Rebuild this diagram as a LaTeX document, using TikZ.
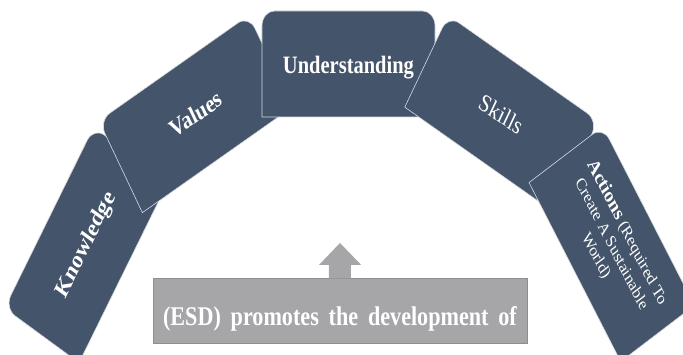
\documentclass[tikz,border=0pt]{standalone}
\usepackage{fontspec}
\setmainfont{Liberation Serif}
\definecolor{slate}{HTML}{44546A}
\definecolor{cardedge}{HTML}{D6DAE0}
\definecolor{esdgray}{HTML}{A6A6A8}
\definecolor{esdedge}{HTML}{8E8E90}
\tikzset{
  card/.style={fill=slate, draw=cardedge, line width=0.6pt},
  cardtext/.style={text=white, transform shape, align=center, font=\bfseries\fontsize{25}{30}\selectfont},
  esdbox/.style={fill=esdgray, draw=esdedge, line width=0.5pt, transform shape, minimum width=456pt, minimum height=65pt, inner sep=0pt},
  esdtext/.style={text=white, transform shape, font=\bfseries\fontsize{27}{32}\selectfont, inner sep=0pt},
}
\begin{document}
\begin{tikzpicture}[x=1pt, y=-1pt, xscale=0.82]
\clip (0,0) rectangle (832.93,355);
% Knowledge
\begin{scope}[shift={(105.3,245)}, rotate=59, y=1pt]
  \filldraw[card] (-105.5,-53) -- (-105.5,38) arc[start angle=180,end angle=90,radius=15] -- (90.5,53) arc[start angle=90,end angle=0,radius=15] -- (105.5,-53) -- cycle;
  \node[cardtext] (know) at (0,0) {Knowledge};
\end{scope}
% Values
\begin{scope}[shift={(238.5,114)}, rotate=30, y=1pt]
  \filldraw[card] (-105.5,-53) -- (-105.5,38) arc[start angle=180,end angle=90,radius=15] -- (90.5,53) arc[start angle=90,end angle=0,radius=15] -- (105.5,-53) -- cycle;
  \node[cardtext] (val) at (0,0) {Values};
\end{scope}
% Understanding
\begin{scope}[shift={(425,64)}, y=1pt]
  \filldraw[card] (-105.5,-53) -- (-105.5,38) arc[start angle=180,end angle=90,radius=15] -- (90.5,53) arc[start angle=90,end angle=0,radius=15] -- (105.5,-53) -- cycle;
  \node[cardtext] (und) at (0,-4) {Understanding};
\end{scope}
% Skills
\begin{scope}[shift={(611.5,114)}, rotate=-30, y=1pt]
  \filldraw[card] (-105.5,-53) -- (-105.5,38) arc[start angle=180,end angle=90,radius=15] -- (90.5,53) arc[start angle=90,end angle=0,radius=15] -- (105.5,-53) -- cycle;
  \node[cardtext, font=\fontsize{25}{30}\selectfont] (ski) at (0,0) {Skills};
\end{scope}
% Actions
\begin{scope}[shift={(746,244)}, rotate=-58, y=1pt]
  \filldraw[card] (-105.5,-53) -- (-105.5,38) arc[start angle=180,end angle=90,radius=15] -- (90.5,53) arc[start angle=90,end angle=0,radius=15] -- (105.5,-53) -- cycle;
  \node[cardtext, font=\fontsize{18}{22}\selectfont] (act) at (0,0) {{\bfseries\fontsize{21}{22}\selectfont Actions} (Required To\\Create A Sustainable\\World)};
\end{scope}
% ESD box and arrow
\node[esdbox] (esd) at (414.6,310.5) {};
\fill[esdgray] (401,278.5) -- (401,265) -- (389,265) -- (414.6,243) -- (440.5,265) -- (428,265) -- (428,278.5) -- cycle;
\node[esdtext, anchor=base] (esdlabel) at (414.6,325.5) {\spaceskip=12pt\relax (ESD) promotes the development of};
\end{tikzpicture}
\end{document}
